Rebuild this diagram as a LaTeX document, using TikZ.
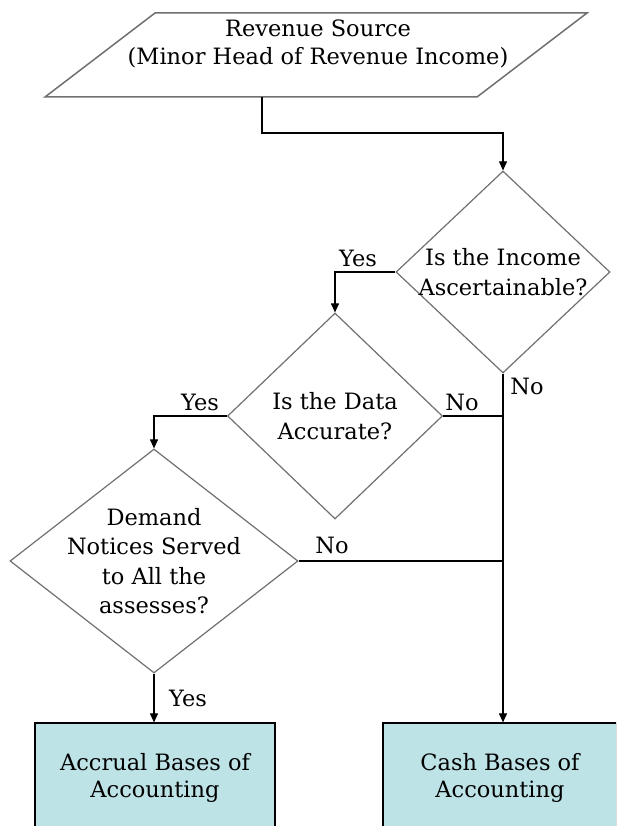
\documentclass[tikz,border=0pt]{standalone}
\usepackage{fontspec}
\setmainfont{DejaVu Serif}
\usetikzlibrary{shapes.geometric,arrows.meta}
\definecolor{boxc}{HTML}{BDE3E7}
\definecolor{edgec}{HTML}{707070}
\newcommand\lblfont{\fontsize{22.5}{29.5}\selectfont}
\newcommand\srcfont{\fontsize{22.5}{28}\selectfont}
\newcommand\boxfont{\fontsize{22.5}{27}\selectfont}
\begin{document}
\begin{tikzpicture}[x=1pt,y=-1pt,
  dec/.style={diamond, draw=edgec, line width=1.2pt, fill=white, inner sep=0pt},
  dectext/.style={align=center, font=\lblfont, inner sep=0pt},
  resbox/.style={rectangle, draw=black, line width=1.2pt, fill=boxc, align=center, font=\boxfont, inner sep=0pt},
  arr/.style={-{Triangle[width=8pt,length=9pt]}, line width=1.1pt},
  ln/.style={line width=1.1pt},
  lab/.style={font=\lblfont, inner sep=0pt}]
\path[use as bounding box, clip] (0,0) rectangle (616,826);
% parallelogram
\draw[edgec, line width=1.5pt, fill=white] (45,97) -- (155,13) -- (587,13) -- (477,97) -- cycle;
\node[align=center, font=\srcfont] (src) at (318,44) {Revenue Source\\(Minor Head of Revenue Income)};
\coordinate (srcb) at (262,97);
% decisions
\node[dec, minimum width=214pt, minimum height=202pt] (d1) at (503,272) {};
\node[dectext] (d1t) at (d1.center) {Is the Income\\Ascertainable?};
\node[dec, minimum width=215pt, minimum height=206pt] (d2) at (335,416) {};
\node[dectext] (d2t) at (d2.center) {Is the Data\\Accurate?};
\node[dec, minimum width=288pt, minimum height=224pt] (d3) at (154,561) {};
\node[dectext] (d3t) at (d3.center) {Demand\\Notices Served\\to All the\\assesses?};
% results
\node[resbox, minimum width=240pt, minimum height=110pt] (acc) at (155,778) {Accrual Bases of\\Accounting};
\node[resbox, minimum width=234pt, minimum height=110pt] (cash) at (500,778) {Cash Bases of\\Accounting};
% connectors
\draw[arr] (srcb) -- ++(0,36) -| (d1.north);
\draw[arr] (d1.west) -| (d2.north);
\draw[arr] (d2.west) -| (d3.north);
\draw[arr] (d1.south) -- (d1.south |- cash.north);
\draw[ln] (d2.east) -- (d2.east -| d1.south);
\draw[ln] (d3.east) -- (d3.east -| d1.south);
\draw[arr] (d3.south) -- (d3.south |- acc.north);
% labels
\node[lab] (y1) at (358,258) {Yes};
\node[lab] (n1) at (527,386) {No};
\node[lab] (y2) at (200,402) {Yes};
\node[lab] (n2) at (462,402) {No};
\node[lab] (n3) at (332,545) {No};
\node[lab] (y3) at (188,698) {Yes};
\end{tikzpicture}
\end{document}
